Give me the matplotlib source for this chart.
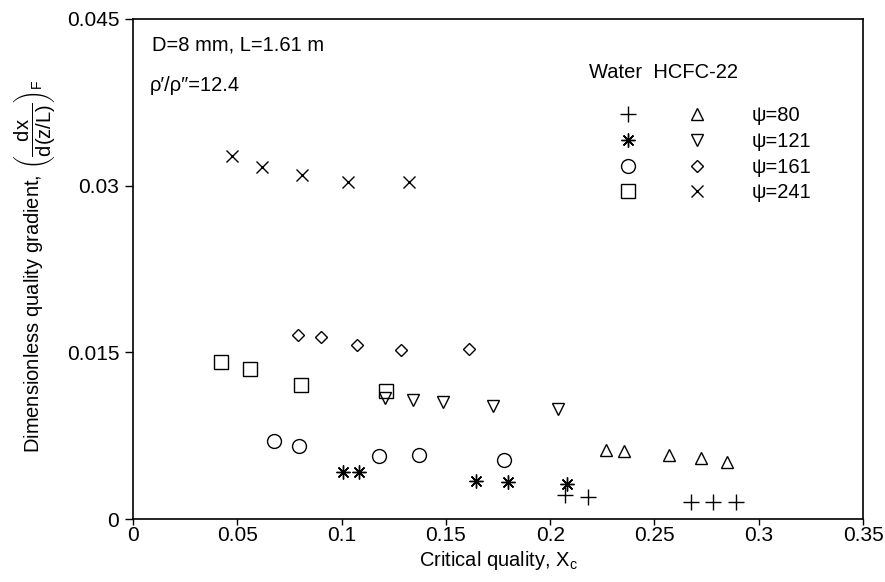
import matplotlib
matplotlib.use("Agg")
import matplotlib.pyplot as plt
from matplotlib.legend_handler import HandlerTuple

plt.rcParams['font.family'] = ['Liberation Sans', 'DejaVu Sans']
plt.rcParams['mathtext.fontset'] = 'custom'
plt.rcParams['mathtext.rm'] = 'Liberation Sans'
plt.rcParams['mathtext.it'] = 'Liberation Sans'

# Water data
water80_x = [0.2070, 0.2183, 0.2675, 0.2782, 0.2891]
water80_y = [0.00216, 0.00201, 0.0015, 0.0015, 0.0015]
water121_x = [0.1006, 0.1082, 0.1644, 0.1799, 0.2082]
water121_y = [0.00426, 0.00426, 0.00345, 0.00336, 0.00315]
water161_x = [0.0676, 0.0796, 0.1181, 0.1370, 0.1778]
water161_y = [0.00702, 0.0066, 0.00567, 0.00573, 0.00531]
water241_x = [0.0420, 0.0561, 0.0804, 0.1212]
water241_y = [0.01416, 0.0135, 0.01206, 0.01152]
# HCFC-22 data
hcfc80_x = [0.2266, 0.2354, 0.2571, 0.2722, 0.2846]
hcfc80_y = [0.00621, 0.00612, 0.00573, 0.00552, 0.00516]
hcfc121_x = [0.1209, 0.1344, 0.1485, 0.1728, 0.2039]
hcfc121_y = [0.01086, 0.01071, 0.0105, 0.01017, 0.0099]
hcfc161_x = [0.0793, 0.0900, 0.1075, 0.1283, 0.1612]
hcfc161_y = [0.01656, 0.01641, 0.01566, 0.01521, 0.0153]
hcfc241_x = [0.0476, 0.0617, 0.0812, 0.1030, 0.1325]
hcfc241_y = [0.0327, 0.0317, 0.0310, 0.0303, 0.0303]

psi_labels = ["ψ=80", "ψ=121", "ψ=161", "ψ=241"]
x_ticks = [0, 0.05, 0.1, 0.15, 0.2, 0.25, 0.3, 0.35]
x_ticklabels = ["0", "0.05", "0.1", "0.15", "0.2", "0.25", "0.3", "0.35"]
y_ticks = [0, 0.015, 0.03, 0.045]
y_ticklabels = ["0", "0.015", "0.03", "0.045"]

fig = plt.figure(figsize=(8.85, 5.82), dpi=100)
ax = fig.add_axes([0.1503, 0.1082, 0.8249, 0.8592])

kw = dict(linestyle='none', color='black', markerfacecolor='none', markeredgewidth=1.0)
asterisk = (8, 2, 0)
h_w80, = ax.plot(water80_x, water80_y, marker='+', markersize=11, **kw)
h_w121, = ax.plot(water121_x, water121_y, marker=asterisk, markersize=10, **kw)
h_w161, = ax.plot(water161_x, water161_y, marker='o', markersize=10, **kw)
h_w241, = ax.plot(water241_x, water241_y, marker='s', markersize=10, **kw)
h_h80, = ax.plot(hcfc80_x, hcfc80_y, marker='^', markersize=8, **kw)
h_h121, = ax.plot(hcfc121_x, hcfc121_y, marker='v', markersize=8, **kw)
h_h161, = ax.plot(hcfc161_x, hcfc161_y, marker='D', markersize=6.5, **kw)
h_h241, = ax.plot(hcfc241_x, hcfc241_y, marker='x', markersize=9, **kw)

ax.set_xlim(0, 0.35)
ax.set_ylim(0, 0.045)
ax.set_xticks(x_ticks)
ax.set_xticklabels(x_ticklabels)
ax.set_yticks(y_ticks)
ax.set_yticklabels(y_ticklabels)
ax.tick_params(axis='x', direction='out', length=4, width=1, labelsize=15, pad=1)
ax.tick_params(axis='y', direction='out', length=6, width=1, labelsize=15, pad=4)
for s in ax.spines.values():
    s.set_linewidth(1.2)

ax.set_xlabel(r"Critical quality, X$_\mathrm{c}$", fontsize=14.5, labelpad=3)
ax.set_ylabel(r"Dimensionless quality gradient, $\left(\dfrac{\mathrm{dx}}{\mathrm{d(z/L)}}\right)_\mathrm{F}$",
              fontsize=14.5)
ax.yaxis.set_label_coords(-0.104, 0.505)

ax.text(0.026, 0.948, "D=8 mm, L=1.61 m", transform=ax.transAxes, fontsize=14.5, va='center', ha='left')
ax.text(0.0233, 0.866, "ρ′/ρ″=12.4", transform=ax.transAxes, fontsize=14.5, va='center', ha='left')
ax.text(0.6247, 0.892, "Water  HCFC-22", transform=ax.transAxes, fontsize=14.5, va='center', ha='left')

handles = [(h_w80, h_h80), (h_w121, h_h121), (h_w161, h_h161), (h_w241, h_h241)]
leg = ax.legend(handles, psi_labels, handler_map={tuple: HandlerTuple(ndivide=None, pad=0)},
                loc='upper left', bbox_to_anchor=(0.631, 0.825), frameon=False,
                fontsize=14.5, handlelength=6.85, handletextpad=0.97, labelspacing=0.33,
                borderpad=0, borderaxespad=0)

fig.savefig("out.png", dpi=100)
